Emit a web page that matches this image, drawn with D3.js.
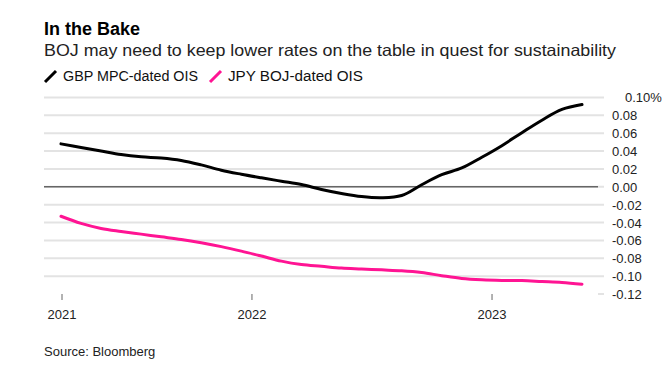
<!DOCTYPE html>
<html>
<head>
<meta charset="utf-8">
<script src="https://cdn.jsdelivr.net/npm/d3@7"></script>
<style>
  body { margin: 0; background: #fff; }
  svg text { font-family: "Liberation Sans", Arial, sans-serif; }
</style>
</head>
<body>
<svg id="chart" width="672" height="365"></svg>
<script>
// values, one sample per step along the x axis
var gbp = [0.048, 0.044, 0.040, 0.036, 0.0335, 0.0322, 0.0295, 0.0245, 0.0185, 0.014,
           0.010, 0.0062, 0.0025, -0.003, -0.0075, -0.011, -0.0123, -0.0098, 0.0023, 0.0135,
           0.021, 0.033, 0.046, 0.0605, 0.0745, 0.0865, 0.092];
var jpy = [-0.033, -0.041, -0.0466, -0.050, -0.053, -0.056, -0.059, -0.0627, -0.067, -0.072,
           -0.0775, -0.0832, -0.087, -0.089, -0.091, -0.092, -0.093, -0.094, -0.096, -0.0995,
           -0.1026, -0.1041, -0.1048, -0.105, -0.106, -0.107, -0.109];
var yearLabels = ["2021", "2022", "2023"];
var yearAt = [0, 9.48, 21.46];   // where each year starts, in sample steps
var yTicks = [0.10, 0.08, 0.06, 0.04, 0.02, 0.00, -0.02, -0.04, -0.06, -0.08, -0.10, -0.12];
var seriesNames = ["GBP MPC-dated OIS", "JPY BOJ-dated OIS"];
var seriesColors = ["#000000", "#ff1493"];

var svg = d3.select("#chart");

var x = d3.scaleLinear()
    .domain([0, gbp.length - 1])
    .range([61, 582]);

var y = d3.scaleLinear()
    .domain([-0.12, 0.10])
    .range([294, 97.4]);

// titles
svg.append("text")
    .attr("x", 44).attr("y", 35)
    .style("font-size", "18px").style("font-weight", "bold")
    .text("In the Bake");

svg.append("text")
    .attr("x", 44).attr("y", 56)
    .attr("textLength", 572)
    .attr("lengthAdjust", "spacingAndGlyphs")
    .style("font-size", "16.5px").attr("fill", "#222")
    .text("BOJ may need to keep lower rates on the table in quest for sustainability");

// legend
var leg = svg.append("g").selectAll("g")
    .data(seriesNames)
    .enter().append("g")
    .attr("transform", function(d, i) { return "translate(" + [44, 209][i] + ",0)"; });

leg.append("line")
    .attr("x1", 1).attr("y1", 82).attr("x2", 12).attr("y2", 71)
    .attr("stroke", function(d, i) { return seriesColors[i]; })
    .attr("stroke-width", 3);

leg.append("text")
    .attr("x", 19).attr("y", 81)
    .attr("textLength", 135)
    .attr("lengthAdjust", "spacingAndGlyphs")
    .style("font-size", "14px").attr("fill", "#111")
    .text(function(d) { return d; });

// grid
svg.append("g")
    .selectAll("line")
    .data(yTicks)
    .enter().append("line")
    .attr("x1", function(d) { return d === -0.12 ? 598 : 44; })
    .attr("x2", 604)
    .attr("y1", function(d) { return y(d); })
    .attr("y2", function(d) { return y(d); })
    .attr("stroke", "#e3e3e3")
    .attr("stroke-width", 2);

svg.append("line")
    .attr("x1", 44).attr("x2", 598)
    .attr("y1", y(0)).attr("y2", y(0))
    .attr("stroke", "#666").attr("stroke-width", 1.3);

// y labels
svg.append("g")
    .selectAll("text")
    .data(yTicks)
    .enter().append("text")
    .attr("x", function(d, i) { return i === 0 ? 625 : 612; })
    .attr("y", function(d) { return y(d) + 5; })
    .style("font-size", "13px").attr("fill", "#222")
    .text(function(d, i) {
      var s = d3.format(".2f")(d).replace("−", "-");
      return i === 0 ? s + "%" : s;
    });

// x axis ticks
var xt = svg.append("g")
    .selectAll("g")
    .data(yearLabels)
    .enter().append("g");

xt.append("line")
    .attr("x1", function(d, i) { return x(yearAt[i]) + 1; })
    .attr("x2", function(d, i) { return x(yearAt[i]) + 1; })
    .attr("y1", 294).attr("y2", 300)
    .attr("stroke", "#666").attr("stroke-width", 1);

xt.append("text")
    .attr("x", function(d, i) { return x(yearAt[i]) + 1; })
    .attr("y", 319)
    .attr("text-anchor", "middle")
    .style("font-size", "13px").attr("fill", "#222")
    .text(function(d) { return d; });

// lines
var line = d3.line()
    .x(function(d, i) { return x(i); })
    .y(function(d) { return y(d); })
    .curve(d3.curveCatmullRom.alpha(0.5));

svg.append("g")
    .selectAll("path")
    .data([gbp, jpy])
    .enter().append("path")
    .attr("d", line)
    .attr("fill", "none")
    .attr("stroke", function(d, i) { return seriesColors[i]; })
    .attr("stroke-width", 3)
    .attr("stroke-linecap", "round");

// source
svg.append("text")
    .attr("x", 44).attr("y", 356)
    .style("font-size", "13px").attr("fill", "#222")
    .text("Source: Bloomberg");
</script>
</body>
</html>
